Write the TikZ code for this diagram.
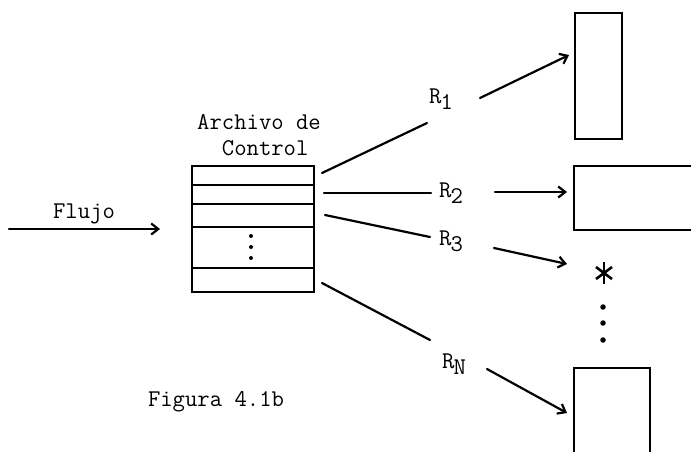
\documentclass[tikz,border=0pt]{standalone}
\usetikzlibrary{arrows.meta,calc}
\tikzset{
  lbl/.style={font=\fontsize{24}{26}\selectfont\ttfamily, inner sep=0pt},
  conn/.style={line width=2.2pt, line cap=round},
  arr/.style={conn, -{Straight Barb[length=7pt,width=11pt,line width=2.2pt]}},
  boxline/.style={line width=2.8pt},
  inline/.style={line width=2.5pt},
  dotmark/.style={circle, fill=black, inner sep=0pt, minimum size=5.5pt},
}
\newcommand{\Rsub}[1]{R\kern-1pt\raisebox{-6pt}{#1}}
\begin{document}
\begin{tikzpicture}[x=1pt,y=-1pt]
\useasboundingbox (0,0) rectangle (691,451);
\clip (0,0) rectangle (691,451);

% Flujo arrow
\coordinate (fs) at (9,229);
\coordinate (fe) at (160,229);
\draw[arr] (fs) -- (fe);
\node[lbl] (flujo) at (84,214) {Flujo};

% control file
\node[lbl, align=center] (arch) at (259,135) {Archivo de\\\ Control};
\coordinate (cbtl) at (192,166);
\coordinate (cbbr) at (314,292);
\draw[boxline] (cbtl) rectangle (cbbr);
\foreach \yy in {185,204,227,268}{
  \draw[inline] (192,\yy) -- (314,\yy);
}
\foreach \yy [count=\i] in {236,247,258}{
  \node[dotmark, minimum size=4pt] (cd\i) at (251,\yy) {};
}

% labels
\node[lbl] (r1) at (441,99) {\Rsub{1}};
\node[lbl] (r2) at (451,193) {\Rsub{2}};
\node[lbl] (r3) at (451,241) {\Rsub{3}};
\node[lbl] (rn) at (454,364) {\Rsub{N}};

% connector end points
\coordinate (a1) at (322,173);  \coordinate (b1) at (427,123);
\coordinate (c1) at (480,98);   \coordinate (d1) at (569,55);
\coordinate (a2) at (324,193);  \coordinate (b2) at (431,193);
\coordinate (c2) at (495,192);  \coordinate (d2) at (567,192);
\coordinate (a3) at (325,215);  \coordinate (b3) at (430,237);
\coordinate (c3) at (494,248);  \coordinate (d3) at (567,264);
\coordinate (a4) at (322,283);  \coordinate (b4) at (430,340);
\coordinate (c4) at (487,369);  \coordinate (d4) at (567,413);

\draw[conn] (a1) -- (b1);
\draw[arr] (c1) -- (d1);
\draw[conn] (a2) -- (b2);
\draw[arr] (c2) -- (d2);
\draw[conn] (a3) -- (b3);
\draw[arr] (c3) -- (d3);
\draw[conn] (a4) -- (b4);
\draw[arr] (c4) -- (d4);

% target boxes
\draw[boxline] (575,13) rectangle (622,139);
\draw[boxline] (574,166) rectangle (700,230);
\draw[boxline] (574,368) rectangle (650,470);

% asterisk
\coordinate (star) at (604,273);
\draw[line width=2.6pt] ($(star)+(0,-11)$) -- ($(star)+(0,11)$);
\draw[line width=2.6pt] ($(star)+(-8,-6)$) -- ($(star)+(8,6)$);
\draw[line width=2.6pt] ($(star)+(-8,6)$) -- ($(star)+(8,-6)$);

% vertical dots
\node[dotmark] (v1) at (603,307) {};
\node[dotmark] (v2) at (603,323) {};
\node[dotmark] (v3) at (603,340) {};

% caption
\node[lbl] (fig) at (216,402) {Figura 4.1b};
\end{tikzpicture}
\end{document}
